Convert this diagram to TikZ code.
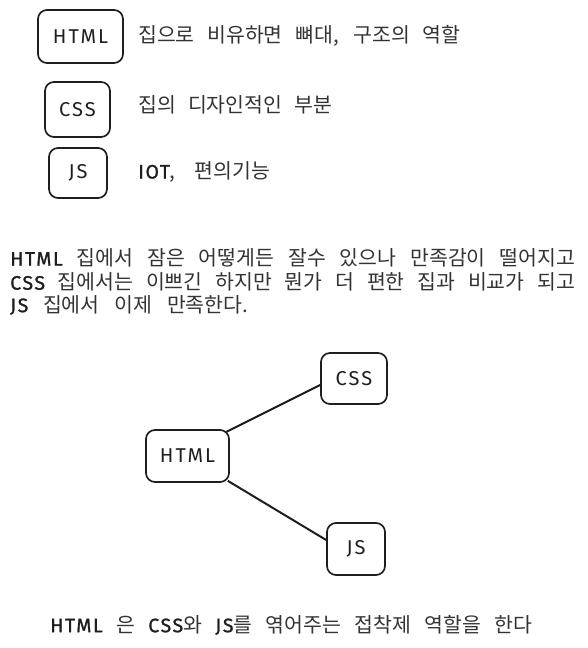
\documentclass[tikz,border=0pt]{standalone}
\usepackage{fontspec}
\setmainfont{Noto Sans CJK KR}
\newfontfamily\latf{Fira Sans}[LetterSpace=10]
\newfontfamily\latb{Fira Sans}[LetterSpace=8, FakeBold=1.2]
\definecolor{ink}{HTML}{1E1E1E}
\definecolor{kink}{HTML}{333333}
\newcommand{\lat}[1]{{\color{ink}\latb\fontsize{19.5pt}{22pt}\selectfont #1}}
\newcommand{\spread}[2]{\makebox[#1][s]{#2}}
\tikzset{
  box/.style={draw=ink, line width=1.7pt, rounded corners=9pt, inner sep=0pt, text=ink,
    font=\latf\fontsize{20pt}{23pt}\selectfont},
  txt/.style={inner sep=0pt, text=kink, font=\fontsize{20.5pt}{24pt}\selectfont},
  link/.style={draw=ink, line width=2pt}
}
\begin{document}
\begin{tikzpicture}[x=1pt,y=-1pt]
\useasboundingbox (0,0) rectangle (587,648);
% legend
\node[box, minimum width=85pt, minimum height=53pt] (b1) at (80.5,36.5) {HTML};
\node[box, minimum width=65pt, minimum height=55pt] (b2) at (77.5,109.5) {CSS};
\node[box, minimum width=58pt, minimum height=50pt] (b3) at (78,173) {JS};
\node[txt, anchor=west] (t1) at (138,36) {\spread{322pt}{집으로 비유하면 뼈대, 구조의 역할}};
\node[txt, anchor=west] (t2) at (138,105) {\spread{194pt}{집의 디자인적인 부분}};
\node[txt, anchor=west] (t3) at (138,172) {\spread{132pt}{\lat{IOT}, 편의기능}};
% paragraph
\node[txt, anchor=west] (p1) at (10,258) {\spread{565pt}{\lat{HTML} 집에서 잠은 어떻게든 잘수 있으나 만족감이 떨어지고}};
\node[txt, anchor=west] (p2) at (10,282) {\spread{565pt}{\lat{CSS} 집에서는 이쁘긴 하지만 뭔가 더 편한 집과 비교가 되고}};
\node[txt, anchor=west] (p3) at (10,305) {\spread{238pt}{\lat{JS} 집에서 이제 만족한다.}};
% graph
\node[box, minimum width=83pt, minimum height=52pt] (h) at (187.5,456) {HTML};
\node[box, minimum width=66pt, minimum height=51pt] (c) at (354,378.5) {CSS};
\node[box, minimum width=58pt, minimum height=52pt] (j) at (356,549) {JS};
\draw[link] ([xshift=-4pt,yshift=-3pt]h.north east) -- ([yshift=-6.5pt]c.west);
\draw[link] ([xshift=-2pt,yshift=2pt]h.south east) -- ([yshift=9pt]j.west);
% caption
\node[txt, anchor=west] (cap) at (50,625) {\spread{482pt}{\lat{HTML} 은 \lat{CSS}와 \lat{JS}를 엮어주는 접착제 역할을 한다}};
\end{tikzpicture}
\end{document}
